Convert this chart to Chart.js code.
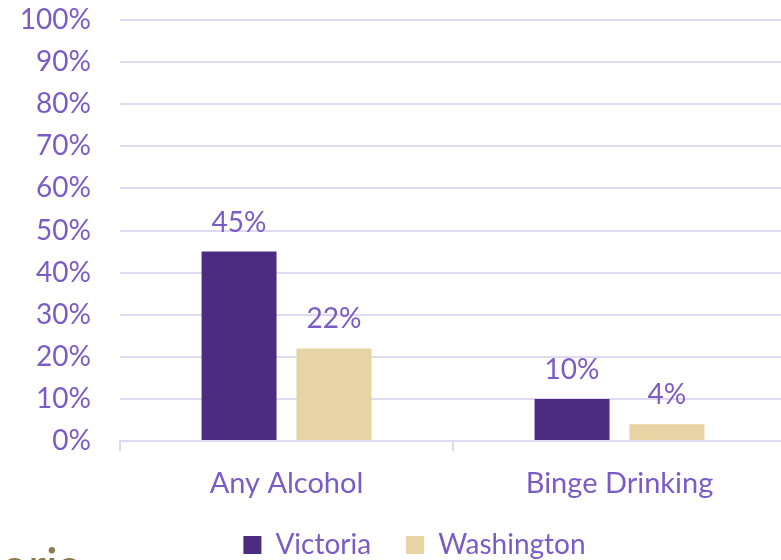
<!DOCTYPE html>
<html>
<head>
<meta charset="utf-8">
<script src="https://cdn.jsdelivr.net/npm/chart.js@4.4.0/dist/chart.umd.min.js"></script>
<style>
  html, body { margin: 0; padding: 0; background: #fff; width: 781px; height: 560px; overflow: hidden; }
  #wrap { position: relative; width: 781px; height: 560px; overflow: hidden; }
  #box { position: absolute; left: 0; top: 0; width: 800px; height: 569px; }
  #title { position: absolute; left: 1px; top: 541px; font-family: Lato, sans-serif; font-size: 48px; color: #8B7A4C; line-height: 1; font-weight: 500; white-space: nowrap; }
</style>
</head>
<body>
<div id="wrap">
  <div id="box"><canvas id="c" width="800" height="569"></canvas></div>
  <div id="title">oria</div>
</div>
<script>
const categories = ["Any Alcohol", "Binge Drinking"];
const seriesNames = ["Victoria", "Washington"];
const victoriaValues = [45, 10];
const washingtonValues = [22, 4];
const yTicks = [0, 10, 20, 30, 40, 50, 60, 70, 80, 90, 100];

const textColor = "#7B5CC5";
const gridColor = "#E1D9F2";
const fontFamily = "Lato, 'Open Sans', sans-serif";

const labelPlugin = {
  id: "barLabels",
  afterDatasetsDraw(chart) {
    const ctx = chart.ctx;
    ctx.save();
    ctx.fillStyle = textColor;
    ctx.font = "28px " + fontFamily;
    ctx.textAlign = "center";
    ctx.textBaseline = "alphabetic";
    chart.data.datasets.forEach((ds, i) => {
      const meta = chart.getDatasetMeta(i);
      meta.data.forEach((bar, j) => {
        ctx.fillText(ds.data[j] + "%", bar.x, bar.y - 20);
      });
    });
    ctx.restore();
  }
};

// widen the label clipping boxes of the axes after layout
const unclipPlugin = {
  id: "unclipAxes",
  afterLayout(chart) {
    chart.scales.y.left = 0;
    chart.scales.x.bottom = chart.height;
  }
};

new Chart(document.getElementById("c"), {
  type: "bar",
  data: {
    labels: categories,
    datasets: [
      { label: seriesNames[0], data: victoriaValues, backgroundColor: "#4B2C80", categoryPercentage: 0.57, barPercentage: 0.79 },
      { label: seriesNames[1], data: washingtonValues, backgroundColor: "#E7D3A3", categoryPercentage: 0.57, barPercentage: 0.79 }
    ]
  },
  options: {
    responsive: false,
    animation: false,
    layout: { padding: { top: 20, right: 14, left: 43, bottom: 0 } },
    plugins: {
      tooltip: { enabled: false },
      legend: {
        position: "bottom",
        labels: {
          color: textColor,
          font: { family: fontFamily, size: 28 },
          boxWidth: 18,
          boxHeight: 18,
          padding: 35
        }
      }
    },
    scales: {
      x: {
        afterFit(scale) { scale.height = 55; },
        grid: { offset: true, drawOnChartArea: false, drawTicks: true, tickLength: 10, color: gridColor, lineWidth: 2 },
        border: { color: gridColor, width: 2 },
        ticks: { color: textColor, font: { family: fontFamily, size: 29 }, padding: 15 }
      },
      y: {
        min: 0,
        max: 100,
        afterFit(scale) { scale.width = 77; scale.paddingTop = 0; scale.paddingBottom = 0; },
        afterBuildTicks(scale) { scale.ticks = yTicks.map(v => ({ value: v })); },
        grid: { color: gridColor, lineWidth: 2, drawTicks: false },
        border: { display: false },
        ticks: { color: textColor, font: { family: fontFamily, size: 28 }, padding: 29, callback: v => v + "%" }
      }
    }
  },
  plugins: [labelPlugin, unclipPlugin]
});
</script>
</body>
</html>
